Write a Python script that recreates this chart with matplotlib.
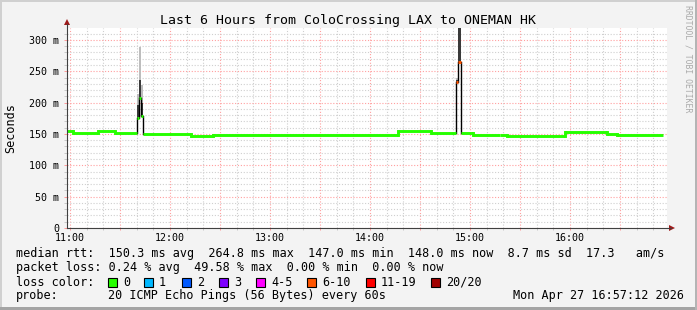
import matplotlib
matplotlib.use('Agg')
import matplotlib.pyplot as plt
from matplotlib.ticker import MultipleLocator, FuncFormatter
from matplotlib.patches import Rectangle, Polygon
import numpy as np

plt.rcParams['font.family'] = ['DejaVu Sans Mono']

# steps of the median rtt, minutes after 11:00 (one value per step)
step_edges = [-1.8, 1.8, 16.8, 27.0, 40.2, 41.4, 42.6, 43.8, 72.6, 85.8, 196.8,
              216.6, 231.4, 232.6, 234.4, 241.8, 258.0, 262.2, 297.0, 322.2, 328.2, 355.8]
median_ms = [154, 151.5, 155, 151.5, 176, 208, 179, 150.5, 147.5, 148.5, 155,
             151, 233, 265, 151, 148, 149, 147.5, 153, 150, 148]
smoke_mid = [154, 151.5, 155, 151.5, 196, 236, 200, 150.5, 147.5, 148.5, 155,
             151, 236, 340, 151, 148, 149, 147.5, 153, 150, 148]
smoke_top = [154, 151.5, 155, 151.5, 214, 288, 228, 150.5, 147.5, 148.5, 155,
             151, 240, 340, 151, 148, 149, 147.5, 153, 150, 148]
loss_bucket = [0, 0, 0, 0, 0, 0, 0, 0, 0, 0, 0,
               0, 5, 5, 0, 0, 0, 0, 0, 0, 0]

hour_labels = ['11:00', '12:00', '13:00', '14:00', '15:00', '16:00']
loss_names = ['0', '1', '2', '3', '4-5', '6-10', '11-19', '20/20']
loss_colors = ['#26ff00', '#00b8ff', '#0059ff', '#7e00ff', '#ff00ff',
               '#ff5500', '#ff0000', '#a00000']

rtt_stats = {'avg': '150.3', 'max': '264.8', 'min': '147.0', 'now': '148.0',
             'sd': '8.7', 'ams': '17.3'}
loss_stats = {'avg': '0.24', 'max': '49.58', 'min': '0.00', 'now': '0.00'}
probe_text = '20 ICMP Echo Pings (56 Bytes) every 60s'
stamp_text = 'Mon Apr 27 16:57:12 2026'
title = 'Last 6 Hours from ColoCrossing LAX to ONEMAN HK'

W, H = 697, 310


def px_rect(x0, y0, x1, y1):
    return [x0 / W, 1 - y1 / H, (x1 - x0) / W, (y1 - y0) / H]


fig = plt.figure(figsize=(W / 100, H / 100), dpi=100)
fig.patch.set_facecolor('#f3f3f3')

# background layer in pixel coordinates
bg = fig.add_axes([0, 0, 1, 1])
bg.set_xlim(0, W)
bg.set_ylim(H, 0)
bg.axis('off')
bg.set_zorder(0)
bg.add_patch(Rectangle((0, 0), W, 2, color='#d0d0d0', lw=0))
bg.add_patch(Rectangle((0, 0), 2, H, color='#d0d0d0', lw=0))
bg.add_patch(Rectangle((0, H - 3), W, 3, color='#a4a4a4', lw=0))
bg.add_patch(Rectangle((W - 2, 0), 2, H, color='#b4b4b4', lw=0))

# plot area
ax = fig.add_axes(px_rect(67, 28, 667, 228))
ax.set_zorder(1)
ax.set_facecolor('white')
ax.set_xlim(-1.8, 358.2)
ax.set_ylim(0, 319)
for s in ax.spines.values():
    s.set_visible(False)

ax.xaxis.set_major_locator(MultipleLocator(30))
ax.xaxis.set_minor_locator(MultipleLocator(10))
ax.yaxis.set_major_locator(MultipleLocator(50))
ax.yaxis.set_minor_locator(MultipleLocator(10))


def xfmt(v, pos):
    h = int(round(v)) // 60
    if abs(v - h * 60) < 1e-6 and 0 <= h < len(hour_labels):
        return hour_labels[h]
    return ''


ax.xaxis.set_major_formatter(FuncFormatter(xfmt))
ax.yaxis.set_major_formatter(FuncFormatter(lambda v, p: '0' if v == 0 else f'{int(v)} m'))

ax.set_axisbelow(True)
ax.grid(which='minor', color='#cfcfcf', linestyle=(0, (1, 1.6)), linewidth=0.8)
ax.grid(which='major', color='#ff9f9f', linestyle=(0, (1, 1.6)), linewidth=0.8)
ax.tick_params(which='major', color='#ff9c9c', width=0.72, labelsize=7.2, labelcolor='black')
ax.tick_params(which='minor', color='#c8c8c8', width=0.72)
ax.tick_params(axis='x', which='both', length=1.5, pad=1.8)
ax.tick_params(axis='y', which='both', length=2.2, pad=3.4)

# smoke
t = np.array(step_edges)
med = np.append(median_ms, median_ms[-1])
mid = np.append(smoke_mid, smoke_mid[-1])
top = np.append(smoke_top, smoke_top[-1])
ax.fill_between(t, mid, top, step='post', color='#bdbdbd', lw=0, zorder=2)
ax.fill_between(t, med, mid, step='post', color='#3a3a3a', lw=0, zorder=2)

# median line, coloured by loss
for i, m in enumerate(median_ms):
    c = loss_colors[loss_bucket[i]]
    ax.plot([step_edges[i], step_edges[i + 1]], [m, m], color=c, lw=2.1,
            solid_capstyle='butt', zorder=4)
    if i + 1 < len(median_ms):
        nxt = median_ms[i + 1]
        if abs(nxt - m) > 10:
            ax.plot([step_edges[i + 1]] * 2, [m, nxt], color='black', lw=1.0, zorder=3)
        else:
            ax.plot([step_edges[i + 1]] * 2, [m, nxt], color=c, lw=2.1, zorder=4)

# foreground layer: axes lines, arrows and texts
fg = fig.add_axes([0, 0, 1, 1])
fg.set_xlim(0, W)
fg.set_ylim(H, 0)
fg.axis('off')
fg.set_zorder(2)
fg.plot([67, 67], [228, 24], color='#404040', lw=0.8)
fg.plot([67, 671], [228, 228], color='#404040', lw=0.8)
fg.add_patch(Polygon([(64, 25), (70, 25), (67, 19)], closed=True, color='#9e1b1b', lw=0))
fg.add_patch(Polygon([(669, 225), (669, 231), (675, 228)], closed=True, color='#9e1b1b', lw=0))

fg.text(347.5, 24, title, fontsize=9.55, ha='center', va='baseline')
fg.text(11, 128, 'Seconds', fontsize=8.5, rotation=90, ha='center', va='center')
fg.text(688, 5, 'RRDTOOL / TOBI OETIKER', fontsize=5.9, rotation=270,
        ha='center', va='top', color='#aaaaaa')

line1 = (f"median rtt:  {rtt_stats['avg']} ms avg  {rtt_stats['max']} ms max  "
         f"{rtt_stats['min']} ms min  {rtt_stats['now']} ms now  "
         f"{rtt_stats['sd']} ms sd  {rtt_stats['ams']}   am/s")
line2 = (f"packet loss: {loss_stats['avg']} % avg  {loss_stats['max']} % max  "
         f"{loss_stats['min']} % min  {loss_stats['now']} % now")
fg.text(16, 257.5, line1, fontsize=8.5, va='baseline')
fg.text(16, 271.5, line2, fontsize=8.5, va='baseline')
fg.text(16, 285.5, 'loss color:', fontsize=8.5, va='baseline')
box_x = [108, 144, 182, 219, 256, 307, 366, 431]
for bx, name, col in zip(box_x, loss_names, loss_colors):
    fg.add_patch(Rectangle((bx, 277.5), 9, 9, facecolor=col, edgecolor='black', lw=0.8))
    fg.text(bx + 15, 285.5, name, fontsize=8.5, va='baseline')
fg.text(16, 299.5, 'probe:', fontsize=8.5, va='baseline')
fg.text(108, 299.5, probe_text, fontsize=8.5, va='baseline')
fg.text(513, 299.5, stamp_text, fontsize=8.5, va='baseline')

fig.savefig('out.png', dpi=100, facecolor=fig.get_facecolor())
